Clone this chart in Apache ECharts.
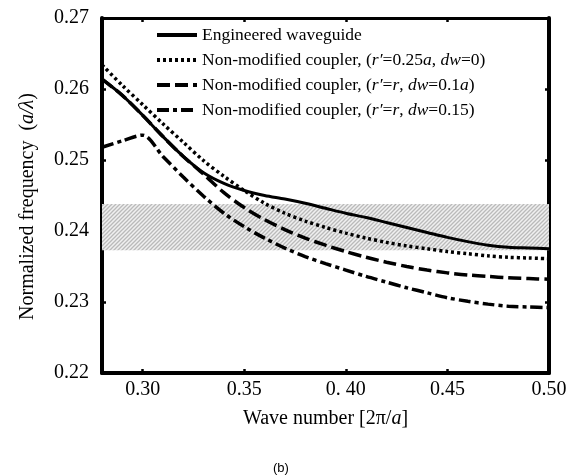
<!DOCTYPE html>
<html style="height: 100%">
<head>
    <meta charset="UTF-8">
    <title>Normalized frequency vs wave number</title>
    <script src="https://cdn.jsdelivr.net/npm/echarts@6.0.0/dist/echarts.min.js"></script>
    <style>
        #main {
            width: 571px;
            height: 475px;
        }
    </style>
</head>
<body style="margin: 0; padding: 0; background: #ffffff;">
    <div id="main"></div>

    <script>
        // wave number (x) sample points
        var waveNumber = [0.28, 0.29, 0.30, 0.31, 0.32, 0.33, 0.34, 0.35, 0.36, 0.37, 0.38,
                          0.39, 0.40, 0.41, 0.42, 0.43, 0.44, 0.45, 0.46, 0.47, 0.48, 0.49, 0.50];

        // normalized frequency for each curve
        var engineered = [0.2614, 0.2591, 0.2563, 0.2533, 0.2505, 0.2482, 0.2467, 0.2457, 0.2450, 0.2445, 0.2439,
                          0.2432, 0.2425, 0.2419, 0.2412, 0.2405, 0.2398, 0.2391, 0.2385, 0.2380, 0.2377, 0.2376, 0.2375];
        var coupler025a = [0.2634, 0.2605, 0.2578, 0.2551, 0.2525, 0.2499, 0.2477, 0.2457, 0.2439, 0.2425, 0.2414,
                           0.2405, 0.2397, 0.2390, 0.2384, 0.2379, 0.2375, 0.2371, 0.2368, 0.2365, 0.2363, 0.2362, 0.2361];
        var couplerDw01a = [0.2614, 0.2591, 0.2563, 0.2533, 0.2505, 0.2480, 0.2454, 0.2433, 0.2416, 0.2402, 0.2390,
                            0.2380, 0.2371, 0.2363, 0.2356, 0.2350, 0.2345, 0.2341, 0.2338, 0.2336, 0.2334, 0.2333, 0.2332];
        var couplerDw015 = [0.2518, 0.2527, 0.2535, 0.2505, 0.2476, 0.2449, 0.2425, 0.2406, 0.2390, 0.2376, 0.2364,
                            0.2354, 0.2345, 0.2336, 0.2328, 0.2320, 0.2313, 0.2306, 0.2301, 0.2297, 0.2294, 0.2293, 0.2292];

        // shaded band
        var bandLow = 0.2373;
        var bandHigh = 0.2438;

        // axis ticks
        var xTickValues = [0.30, 0.35, 0.40, 0.45, 0.50];
        var xTickLabels = ['0.30', '0.35', '0. 40', '0.45', '0.50'];

        var seriesNames = ['Engineered waveguide', 'Coupler r025a', 'Coupler dw01a', 'Coupler dw015'];
        var legendLabels = [
            'Engineered waveguide',
            'Non-modified coupler, ({i|r′}=0.25{i|a}, {i|dw}=0)',
            'Non-modified coupler, ({i|r′}={i|r}, {i|dw}=0.1{i|a})',
            'Non-modified coupler, ({i|r′}={i|r}, {i|dw}=0.15)'
        ];

        function pairs(ys) {
            return waveNumber.map(function (x, i) { return [x, ys[i]]; });
        }

        // diagonal hatch for the band
        function makeHatch() {
            var c = document.createElement('canvas');
            c.width = 4;
            c.height = 4;
            var g = c.getContext('2d');
            g.fillStyle = '#f0f0f0';
            g.fillRect(0, 0, 4, 4);
            g.strokeStyle = '#bababa';
            g.lineWidth = 1.3;
            g.beginPath();
            g.moveTo(0, 4); g.lineTo(4, 0);
            g.moveTo(-1, 1); g.lineTo(1, -1);
            g.moveTo(3, 5); g.lineTo(5, 3);
            g.stroke();
            return c;
        }

        var serif = 'Liberation Serif';

        function lineSeries(name, ys, type, width) {
            return {
                name: name,
                type: 'line',
                data: pairs(ys),
                symbol: 'none',
                smooth: 0.3,
                lineStyle: { color: '#000000', width: width, type: type, cap: 'butt' },
                itemStyle: { color: '#000000' }
            };
        }

        var series = [
            lineSeries(seriesNames[0], engineered, 'solid', 3),
            lineSeries(seriesNames[1], coupler025a, [3, 3], 3.5),
            lineSeries(seriesNames[2], couplerDw01a, [13, 5], 3.5),
            lineSeries(seriesNames[3], couplerDw015, [12, 4, 4, 4], 3.5)
        ];
        series[0].markArea = {
            silent: true,
            itemStyle: { color: { image: makeHatch(), repeat: 'repeat' } },
            data: [[{ yAxis: bandLow }, { yAxis: bandHigh }]]
        };
        series[0].z = 3;

        var option = {
            backgroundColor: '#ffffff',
            animation: false,
            title: {
                text: '(b)',
                left: 268,
                top: 457,
                textStyle: { fontFamily: 'Liberation Sans', fontSize: 13, fontWeight: 'normal', color: '#000000' }
            },
            grid: { left: 102, top: 18, width: 447, height: 355 },
            legend: {
                data: seriesNames,
                orient: 'vertical',
                left: 155,
                top: 26,
                padding: 0,
                itemWidth: 40,
                itemHeight: 14,
                itemGap: 7,
                itemStyle: { opacity: 0 },
                lineStyle: { width: 4 },
                formatter: function (name) {
                    return legendLabels[seriesNames.indexOf(name)];
                },
                textStyle: {
                    fontFamily: serif,
                    fontSize: 17.5,
                    lineHeight: 18,
                    color: '#000000',
                    rich: {
                        i: { fontFamily: serif, fontSize: 17.5, fontStyle: 'italic', color: '#000000' }
                    }
                }
            },
            xAxis: [
                {
                    type: 'value',
                    min: 0.28,
                    max: 0.50,
                    name: 'Wave number [2π/{i|a}]',
                    nameLocation: 'middle',
                    nameGap: 36,
                    nameTextStyle: {
                        fontFamily: serif, fontSize: 20, color: '#000000',
                        rich: { i: { fontFamily: serif, fontSize: 20, fontStyle: 'italic', color: '#000000' } }
                    },
                    axisLine: { show: true, onZero: false, lineStyle: { color: '#000000', width: 4 } },
                    axisTick: { inside: true, length: 4, customValues: xTickValues, lineStyle: { width: 2.5, color: '#000000' } },
                    axisLabel: {
                        customValues: xTickValues,
                        margin: 7,
                        fontFamily: serif,
                        fontSize: 20,
                        color: '#000000',
                        formatter: function (v) {
                            for (var i = 0; i < xTickValues.length; i++) {
                                if (Math.abs(xTickValues[i] - v) < 1e-6) return xTickLabels[i];
                            }
                            return '';
                        }
                    },
                    splitLine: { show: false }
                },
                {
                    type: 'value',
                    position: 'top',
                    min: 0.28,
                    max: 0.50,
                    axisLine: { show: true, onZero: false, lineStyle: { color: '#000000', width: 3 } },
                    axisTick: { inside: true, length: 4, customValues: xTickValues, lineStyle: { width: 2.5, color: '#000000' } },
                    axisLabel: { show: false },
                    splitLine: { show: false }
                }
            ],
            yAxis: [
                {
                    type: 'value',
                    min: 0.22,
                    max: 0.27,
                    interval: 0.01,
                    name: 'Normalized frequency  ({i|a/λ})',
                    nameLocation: 'middle',
                    nameGap: 64,
                    nameTextStyle: {
                        fontFamily: serif, fontSize: 20, color: '#000000',
                        padding: [0, 0, 0, -22],
                        rich: { i: { fontFamily: serif, fontSize: 20, fontStyle: 'italic', color: '#000000' } }
                    },
                    axisLine: { show: true, onZero: false, lineStyle: { color: '#000000', width: 4 } },
                    axisTick: { inside: true, length: 4, lineStyle: { width: 2.5, color: '#000000' } },
                    axisLabel: {
                        margin: 13,
                        fontFamily: serif,
                        fontSize: 20,
                        color: '#000000',
                        formatter: function (v) { return v.toFixed(2); }
                    },
                    splitLine: { show: false }
                },
                {
                    type: 'value',
                    position: 'right',
                    min: 0.22,
                    max: 0.27,
                    interval: 0.01,
                    axisLine: { show: true, onZero: false, lineStyle: { color: '#000000', width: 4 } },
                    axisTick: { inside: true, length: 4, lineStyle: { width: 2.5, color: '#000000' } },
                    axisLabel: { show: false },
                    splitLine: { show: false }
                }
            ],
            series: series
        };

        var chart = echarts.init(document.getElementById('main'));
        chart.setOption(option);
    </script>
</body>
</html>
